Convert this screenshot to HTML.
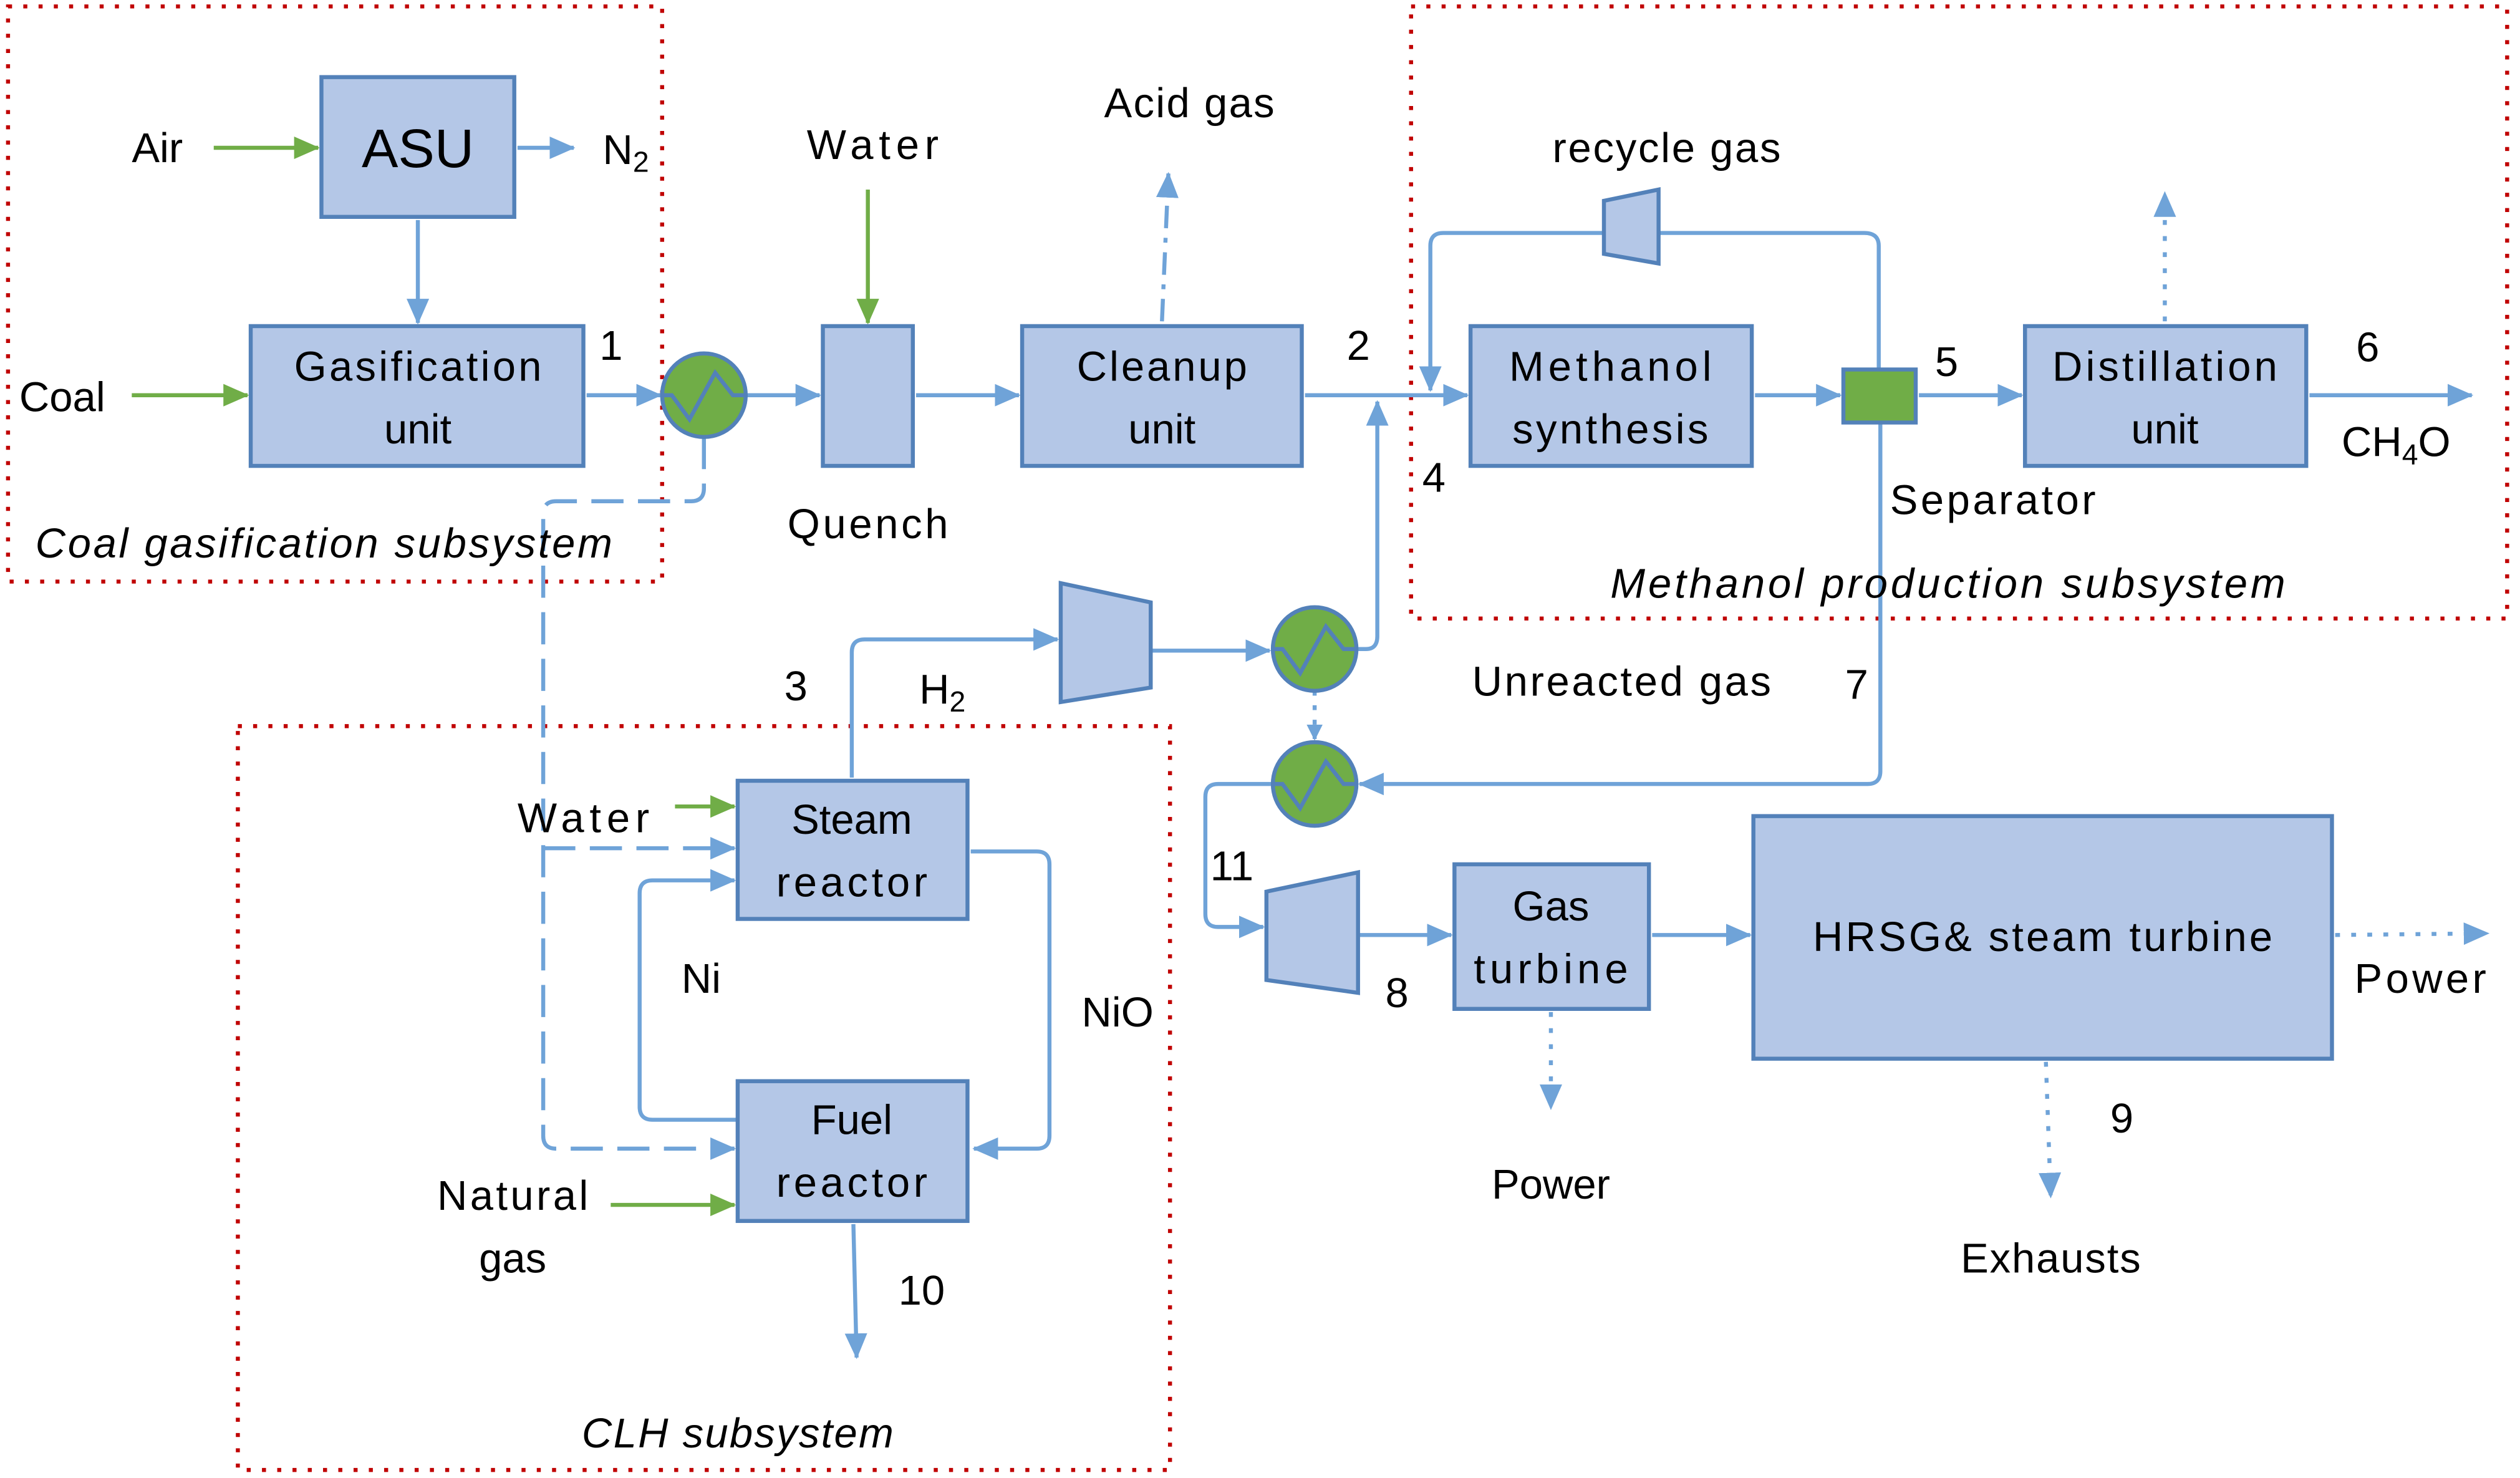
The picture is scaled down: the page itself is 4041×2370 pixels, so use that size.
<!DOCTYPE html>
<html><head><meta charset="utf-8"><style>
html,body{margin:0;padding:0;background:#fff}
svg{display:block}
text{font-family:"Liberation Sans",sans-serif;font-size:26px;fill:#000}
.b{fill:#b4c7e7;stroke:#5381b9;stroke-width:2.5}
.l{fill:none;stroke:#6fa3d8;stroke-width:2.5}
.g{fill:none;stroke:#70ad47;stroke-width:2.5}
.r{fill:none;stroke:#c00000;stroke-width:2.5;stroke-dasharray:2.5 7}
.hx{fill:#70ad47;stroke:#5381b9;stroke-width:2.5}
</style></head><body>
<svg width="4041" height="2370" viewBox="0 0 1568 920" preserveAspectRatio="none" xmlns="http://www.w3.org/2000/svg">
<defs>
<marker id="a" markerWidth="10" markerHeight="10" refX="9" refY="5" orient="auto" markerUnits="userSpaceOnUse" viewBox="0 0 10 10"><path d="M0,0 L10,5 L0,10z" fill="#6fa3d8"/></marker>
<marker id="a2" markerWidth="16" markerHeight="14" refX="15" refY="7" orient="auto" markerUnits="userSpaceOnUse" viewBox="0 0 16 14"><path d="M0,0 L16,7 L0,14z" fill="#6fa3d8"/></marker>
<marker id="ag2" markerWidth="16" markerHeight="14" refX="15" refY="7" orient="auto" markerUnits="userSpaceOnUse" viewBox="0 0 16 14"><path d="M0,0 L16,7 L0,14z" fill="#70ad47"/></marker>
</defs>
<rect class="r" x="5" y="4" width="407" height="358"/>
<rect class="r" x="878" y="4" width="682" height="381"/>
<rect class="r" x="148" y="452" width="580" height="463"/>

<line class="g" x1="133" y1="92" x2="198" y2="92" marker-end="url(#ag2)"/>
<line class="l" x1="322" y1="92" x2="357" y2="92" marker-end="url(#a2)"/>
<line class="l" x1="260" y1="137" x2="260" y2="201" marker-end="url(#a2)"/>
<line class="g" x1="82" y1="246" x2="154" y2="246" marker-end="url(#ag2)"/>
<line class="l" x1="365" y1="246" x2="411" y2="246" marker-end="url(#a2)"/>
<line class="l" x1="464" y1="246" x2="510" y2="246" marker-end="url(#a2)"/>
<line class="g" x1="540" y1="118" x2="540" y2="201" marker-end="url(#ag2)"/>
<line class="l" x1="570" y1="246" x2="634" y2="246" marker-end="url(#a2)"/>
<line class="l" x1="723" y1="200" x2="727" y2="108" stroke-dasharray="14 6 3 6" marker-end="url(#a2)"/>
<line class="l" x1="812" y1="246" x2="913" y2="246" marker-end="url(#a2)"/>
<path class="l" d="M844,404 H850 Q857,404 857,396 V250" marker-end="url(#a2)"/>
<path class="l" d="M1169,230 V153 Q1169,145 1160,145 H1032 M998,145 H898 Q890,145 890,153 V243" marker-end="url(#a2)"/>
<line class="l" x1="1092" y1="246" x2="1145" y2="246" marker-end="url(#a2)"/>
<line class="l" x1="1194" y1="246" x2="1258" y2="246" marker-end="url(#a2)"/>
<line class="l" x1="1347" y1="200" x2="1347" y2="120" stroke-dasharray="3 7" marker-end="url(#a2)"/>
<line class="l" x1="1437" y1="246" x2="1538" y2="246" marker-end="url(#a2)"/>
<path class="l" d="M1170,263 V480 Q1170,488 1162,488 H846" marker-end="url(#a2)"/>
<line class="l" x1="818" y1="430" x2="818" y2="460" stroke-dasharray="3 6" marker-end="url(#a)"/>
<path class="l" d="M792,488 H758 Q750,488 750,496 V569 Q750,577 758,577 H786" marker-end="url(#a2)"/>
<line class="l" x1="845" y1="582" x2="903" y2="582" marker-end="url(#a2)"/>
<line class="l" x1="1028" y1="582" x2="1089" y2="582" marker-end="url(#a2)"/>
<line class="l" x1="965" y1="630" x2="965" y2="690" stroke-dasharray="3 7" marker-end="url(#a2)"/>
<line class="l" x1="1453" y1="582" x2="1548" y2="581" stroke-dasharray="3 7" marker-end="url(#a2)"/>
<line class="l" x1="1273" y1="661" x2="1276" y2="745" stroke-dasharray="3 7" marker-end="url(#a2)"/>
<path class="l" d="M530,484 V406 Q530,398 538,398 H658" marker-end="url(#a2)"/>
<line class="l" x1="716" y1="405" x2="790" y2="405" marker-end="url(#a2)"/>
<path class="l" d="M604,530 H645 Q653,530 653,538 V707 Q653,715 645,715 H606" marker-end="url(#a2)"/>
<path class="l" d="M459,697 H406 Q398,697 398,689 V556 Q398,548 406,548 H457" marker-end="url(#a2)"/>
<line class="g" x1="420" y1="502" x2="457" y2="502" marker-end="url(#ag2)"/>
<path class="l" d="M438,272 V304 Q438,312 430,312 H346 Q338,312 338,320 V707 Q338,715 346,715 H457" stroke-dasharray="20 9" marker-end="url(#a2)"/>
<path class="l" d="M338,528 H457" stroke-dasharray="20 9" marker-end="url(#a2)"/>
<line class="g" x1="380" y1="750" x2="457" y2="750" marker-end="url(#ag2)"/>
<line class="l" x1="531" y1="762" x2="533" y2="845" marker-end="url(#a2)"/>

<rect class="b" x="200" y="48" width="120" height="87"/>
<rect class="b" x="156" y="203" width="207" height="87"/>
<rect class="b" x="512" y="203" width="56" height="87"/>
<rect class="b" x="636" y="203" width="174" height="87"/>
<rect class="b" x="915" y="203" width="175" height="87"/>
<rect x="1147" y="230" width="45" height="33" fill="#70ad47" stroke="#5381b9" stroke-width="2.5"/>
<rect class="b" x="1260" y="203" width="175" height="87"/>
<rect class="b" x="459" y="486" width="143" height="86"/>
<rect class="b" x="459" y="673" width="143" height="87"/>
<rect class="b" x="905" y="538" width="121" height="90"/>
<rect class="b" x="1091" y="508" width="360" height="151"/>
<polygon class="b" points="998,125 1032,118 1032,164 998,158"/>
<polygon class="b" points="660,363 716,375 716,428 660,437"/>
<polygon class="b" points="788,555 845,543 845,618 788,610"/>
<g><circle class="hx" cx="438" cy="246" r="26"/><path d="M412,246 H418 L429,261 L445,232 L456,246 H464" fill="none" stroke="#5381b9" stroke-width="2.5"/></g>
<g><circle class="hx" cx="818" cy="404" r="26"/><path d="M792,404 H798 L809,419 L825,390 L836,404 H844" fill="none" stroke="#5381b9" stroke-width="2.5"/></g>
<g><circle class="hx" cx="818" cy="488" r="26"/><path d="M792,488 H798 L809,503 L825,474 L836,488 H844" fill="none" stroke="#5381b9" stroke-width="2.5"/></g>

<g text-anchor="middle">
<text x="260" y="104" style="font-size:34px">ASU</text>
<text x="260" y="237" textLength="154">Gasification</text><text x="260" y="276">unit</text>
<text x="723" y="237" textLength="106">Cleanup</text><text x="723" y="276">unit</text>
<text x="1002" y="237" textLength="126">Methanol</text><text x="1002" y="276" textLength="122">synthesis</text>
<text x="1347" y="237" textLength="140">Distillation</text><text x="1347" y="276">unit</text>
<text x="530" y="519">Steam</text><text x="530" y="558" textLength="94">reactor</text>
<text x="530" y="706">Fuel</text><text x="530" y="745" textLength="94">reactor</text>
<text x="965" y="573">Gas</text><text x="965" y="612" textLength="96">turbine</text>
<text x="1271" y="592" textLength="286">HRSG&amp; steam turbine</text>
<text x="540" y="335" textLength="100">Quench</text>
<text x="740" y="73" textLength="106">Acid gas</text>
<text x="543" y="99" textLength="82">Water</text>
<text x="1037" y="101" textLength="142">recycle gas</text>
<text x="965" y="746">Power</text>
<text x="1276" y="792" textLength="112">Exhausts</text>
<text x="319" y="753" textLength="94">Natural</text><text x="319" y="792">gas</text>
</g>
<text x="82" y="101">Air</text>
<text x="375" y="102">N<tspan font-size="18" dy="5">2</tspan></text>
<text x="12" y="256">Coal</text>
<text x="373" y="224">1</text>
<text x="838" y="224">2</text>
<text x="488" y="436">3</text>
<text x="885" y="306">4</text>
<text x="1204" y="234">5</text>
<text x="1466" y="225">6</text>
<text x="1148" y="435">7</text>
<text x="862" y="627">8</text>
<text x="1313" y="705">9</text>
<text x="559" y="812">10</text>
<text x="753" y="548">11</text>
<text x="1457" y="284">CH<tspan font-size="18" dy="5">4</tspan><tspan dy="-5">O</tspan></text>
<text x="1176" y="320" textLength="128">Separator</text>
<text x="916" y="433" textLength="186">Unreacted gas</text>
<text x="572" y="438">H<tspan font-size="18" dy="5">2</tspan></text>
<text x="322" y="518" textLength="82">Water</text>
<text x="424" y="618">Ni</text>
<text x="673" y="639">NiO</text>
<text x="1465" y="618" textLength="82">Power</text>
<text x="22" y="347" font-style="italic" textLength="359">Coal gasification subsystem</text>
<text x="1002" y="372" font-style="italic" textLength="420">Methanol production subsystem</text>
<text x="362" y="901" font-style="italic" textLength="194">CLH subsystem</text>
</svg>
</body></html>
